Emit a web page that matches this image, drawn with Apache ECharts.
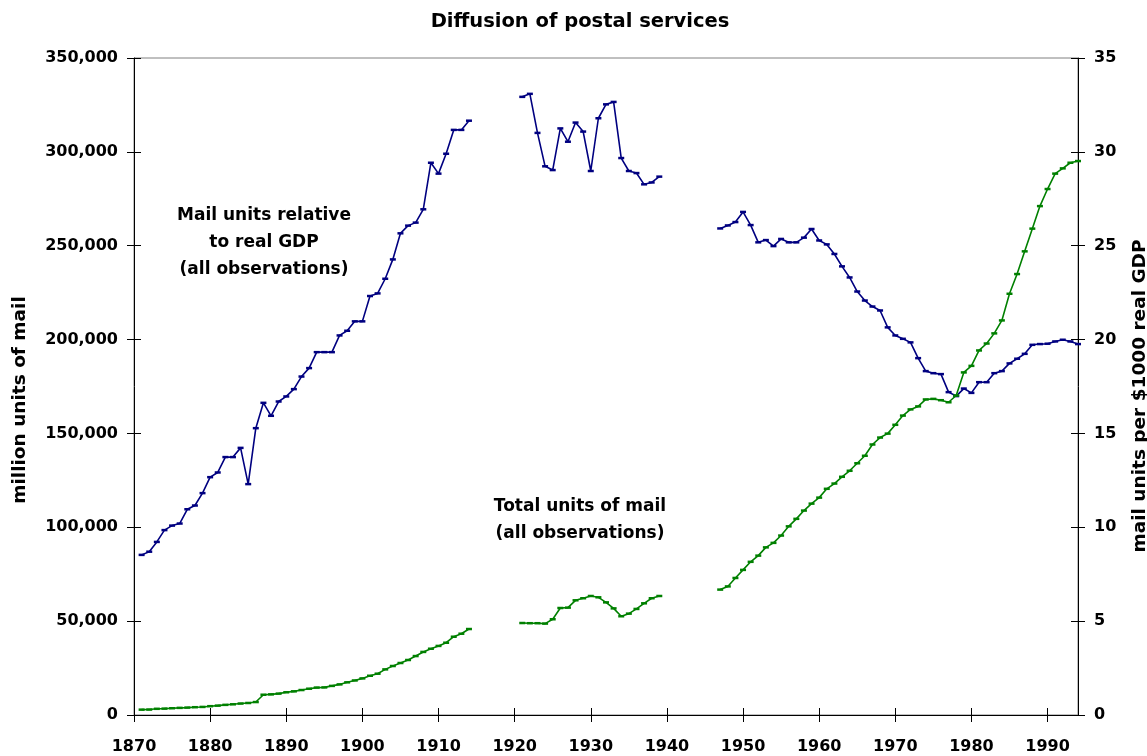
<!DOCTYPE html>
<html>
<head>
<meta charset="utf-8">
<script src="https://cdn.jsdelivr.net/npm/echarts@6/dist/echarts.min.js"></script>
<style>
html,body{margin:0;padding:0;background:#fff}
#c{width:1147px;height:756px}
</style>
</head>
<body>
<div id="c"></div>
<script>
// ---- data ----
const chartTitle = 'Diffusion of postal services';
const leftAxisName = 'million units of mail';
const rightAxisName = 'mail units per $1000 real GDP';
const noteRelative = 'Mail units relative\nto real GDP\n(all observations)';
const noteTotal = 'Total units of mail\n(all observations)';

const xMin = 1870, xMax = 1994, xStep = 10;
const leftMax = 350000, leftStep = 50000;
const rightMax = 35, rightStep = 5;

// Mail units per $1000 real GDP (right axis)
const relStart1 = 1871;
const rel1 = [8.53, 8.70, 9.22, 9.85, 10.09, 10.20, 10.96, 11.16, 11.82, 12.67,
              12.92, 13.74, 13.74, 14.23, 12.30, 15.28, 16.63, 15.94, 16.70, 16.97,
              17.36, 18.03, 18.48, 19.33, 19.33, 19.33, 20.22, 20.47, 20.97, 20.97,
              22.32, 22.46, 23.24, 24.27, 25.66, 26.07, 26.23, 26.94, 29.42, 28.84,
              29.90, 31.17, 31.17, 31.66];
const relStart2 = 1921;
const rel2 = [32.93, 33.09, 31.01, 29.23, 29.03, 31.25, 30.54, 31.56, 31.08, 28.98,
              31.79, 32.53, 32.66, 29.67, 28.98, 28.87, 28.27, 28.37, 28.68];
const relStart3 = 1947;
const rel3 = [25.92, 26.08, 26.26, 26.80, 26.10, 25.18, 25.30, 24.98, 25.36, 25.18,
              25.18, 25.43, 25.89, 25.28, 25.07, 24.56, 23.90, 23.31, 22.56, 22.08,
              21.76, 21.55, 20.65, 20.22, 20.04, 19.85, 19.01, 18.32, 18.21, 18.16,
              17.20, 16.99, 17.39, 17.16, 17.73, 17.73, 18.21, 18.32, 18.73, 18.98,
              19.24, 19.72, 19.76, 19.78, 19.90, 19.99, 19.90, 19.76];

// Total units of mail, million (left axis)
const totStart1 = 1871;
const tot1 = [2850, 2900, 3300, 3400, 3600, 3800, 3950, 4150, 4300, 4700,
              5000, 5400, 5700, 6100, 6400, 6900, 10800, 11000, 11400, 12100,
              12600, 13300, 14000, 14600, 14700, 15500, 16300, 17400, 18400, 19500,
              20900, 22000, 24300, 26100, 27700, 29300, 31400, 33600, 35300, 36800,
              38500, 41700, 43300, 45800];
const totStart2 = 1921;
const tot2 = [49000, 48900, 48900, 48700, 51000, 57000, 57200, 61100, 62200, 63400,
              62700, 60000, 56800, 52600, 54000, 56500, 59500, 62200, 63400];
const totStart3 = 1947;
const tot3 = [66800, 68500, 73000, 77300, 81600, 84900, 89300, 91700, 95600, 100500,
              104500, 108900, 112600, 115800, 120500, 123300, 126900, 130100, 134100, 138100,
              144100, 147800, 149900, 154600, 159500, 162800, 164400, 168100, 168400, 167700,
              166600, 170200, 182500, 186000, 194200, 197900, 203300, 210200, 224400, 234900,
              247000, 259100, 271100, 280200, 288400, 291200, 294200, 295100];

// ---- build series data ----
function seg(start, vals){ return vals.map((v,i)=>[start+i, v]); }
function gapAfter(start, vals){ return [[start + vals.length + 1, '-']]; }
const relData = [].concat(seg(relStart1, rel1), gapAfter(relStart1, rel1),
                          seg(relStart2, rel2), gapAfter(relStart2, rel2),
                          seg(relStart3, rel3));
const totData = [].concat(seg(totStart1, tot1), gapAfter(totStart1, tot1),
                          seg(totStart2, tot2), gapAfter(totStart2, tot2),
                          seg(totStart3, tot3));

const FONT = 'DejaVu Sans';
const BLUE = '#000080', GREEN = '#008000';
const tickLabel = {fontFamily: FONT, fontWeight: 'bold', fontSize: 16, color: '#000'};

const chart = echarts.init(document.getElementById('c'), null, {renderer: 'canvas'});
chart.setOption({
  animation: false,
  backgroundColor: '#fff',
  grid: {left: 134, right: 69, top: 58, bottom: 41, show: true,
         borderColor: '#808080', borderWidth: 1, backgroundColor: 'transparent'},
  xAxis: [
    {type: 'value', min: xMin, max: xMax, interval: xStep, position: 'bottom',
     axisLine: {show: true, onZero: false, lineStyle: {color: '#000', width: 1}},
     axisTick: {show: true, length: 7, lineStyle: {color: '#000'}},
     axisLabel: Object.assign({margin: 24, formatter: v => String(v)}, tickLabel),
     splitLine: {show: false}},
    {type: 'value', min: xMin, max: xMax, interval: xStep, position: 'bottom',
     axisLine: {show: false},
     axisTick: {show: true, inside: true, length: 7, lineStyle: {color: '#000'}},
     axisLabel: {show: false}, splitLine: {show: false}}
  ],
  yAxis: [
    {type: 'value', min: 0, max: leftMax, interval: leftStep, position: 'left',
     axisLine: {show: true, onZero: false, lineStyle: {color: '#000', width: 1}},
     axisTick: {show: true, length: 7, lineStyle: {color: '#000'}},
     axisLabel: Object.assign({margin: 16}, tickLabel),
     splitLine: {show: false}},
    {type: 'value', min: 0, max: rightMax, interval: rightStep, position: 'right',
     axisLine: {show: true, onZero: false, lineStyle: {color: '#000', width: 1}},
     axisTick: {show: true, length: 7, lineStyle: {color: '#000'}},
     axisLabel: Object.assign({margin: 16}, tickLabel),
     splitLine: {show: false}},
    {type: 'value', min: 0, max: leftMax, interval: leftStep, position: 'left',
     axisLine: {show: false},
     axisTick: {show: true, inside: true, length: 7, lineStyle: {color: '#000'}},
     axisLabel: {show: false}, splitLine: {show: false}},
    {type: 'value', min: 0, max: rightMax, interval: rightStep, position: 'right',
     axisLine: {show: false},
     axisTick: {show: true, inside: true, length: 7, lineStyle: {color: '#000'}},
     axisLabel: {show: false}, splitLine: {show: false}}
  ],
  series: [
    {name: 'Mail units relative to real GDP', type: 'line', xAxisIndex: 0, yAxisIndex: 1,
     data: relData, connectNulls: false, showSymbol: true, showAllSymbol: true,
     symbol: 'rect', symbolSize: [6, 2.5],
     lineStyle: {color: BLUE, width: 1.6}, itemStyle: {color: BLUE}, z: 3},
    {name: 'Total units of mail', type: 'line', xAxisIndex: 0, yAxisIndex: 0,
     data: totData, connectNulls: false, showSymbol: true, showAllSymbol: true,
     symbol: 'rect', symbolSize: [6, 2.5],
     lineStyle: {color: GREEN, width: 1.6}, itemStyle: {color: GREEN}, z: 4}
  ],
  graphic: [
    {type: 'text', x: 580, y: 22, silent: true,
     style: {text: chartTitle, fill: '#000', font: 'bold 19.5px "DejaVu Sans"',
             textAlign: 'center', textVerticalAlign: 'middle'}},
    {type: 'text', x: 20, y: 400, rotation: Math.PI / 2, silent: true,
     style: {text: leftAxisName, fill: '#000', font: 'bold 18.5px "DejaVu Sans"',
             textAlign: 'center', textVerticalAlign: 'middle'}},
    {type: 'text', x: 1140, y: 396, rotation: Math.PI / 2, silent: true,
     style: {text: rightAxisName, fill: '#000', font: 'bold 18.5px "DejaVu Sans"',
             textAlign: 'center', textVerticalAlign: 'middle'}},
    {type: 'text', x: 264, y: 202, silent: true,
     style: {text: noteRelative, fill: '#000', font: 'bold 17px "DejaVu Sans"',
             textAlign: 'center', textVerticalAlign: 'top', lineHeight: 27}},
    {type: 'text', x: 580, y: 493, silent: true,
     style: {text: noteTotal, fill: '#000', font: 'bold 17px "DejaVu Sans"',
             textAlign: 'center', textVerticalAlign: 'top', lineHeight: 27}}
  ]
});
</script>
</body>
</html>
